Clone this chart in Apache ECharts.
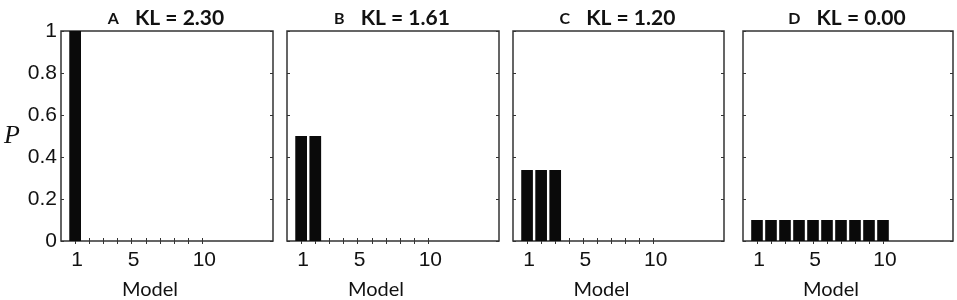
<!DOCTYPE html>
<html>
<head>
<meta charset="utf-8">
<title>KL panels</title>
<script src="https://cdn.jsdelivr.net/npm/echarts@6/dist/echarts.min.js"></script>
<style>
  html, body { margin: 0; padding: 0; background: #fff; }
  #main { width: 957px; height: 300px; }
</style>
</head>
<body>
<div id="main"></div>
<script>
// 数据
var panelLetters = ['A', 'B', 'C', 'D'];
var klValues = ['2.30', '1.61', '1.20', '0.00'];
var modelCats = ['0', '1', '2', '3', '4', '5', '6', '7', '8', '9', '10', '11', '12', '13', '14', '15'];
var xTickLabels = ['1', '5', '10'];
var probA = [1];
var probB = [0.5, 0.5];
var probC = [0.338, 0.338, 0.338];
var probD = [0.1, 0.1, 0.1, 0.1, 0.1, 0.1, 0.1, 0.1, 0.1, 0.1];
var panelProbs = [probA, probB, probC, probD];

// 布局
var grids = [
  { left: 61, top: 31, width: 212, height: 210 },
  { left: 287, top: 31, width: 212, height: 210 },
  { left: 513, top: 31, width: 211, height: 210 },
  { left: 743, top: 31, width: 210, height: 210 }
];

var myChart = echarts.init(document.getElementById('main'));

var option = {
  animation: false,
  backgroundColor: '#fff',
  title: [],
  grid: [],
  xAxis: [],
  yAxis: [],
  series: []
};

function tickShown(index) { return index >= 1 && index <= 10; }

grids.forEach(function (g, i) {
  option.grid.push({
    left: g.left, top: g.top, width: g.width, height: g.height,
    outerBoundsMode: 'none',
    containLabel: false,
    show: true, borderColor: '#333', borderWidth: 1.5, backgroundColor: '#fff'
  });

  option.title.push({
    text: '{a|' + panelLetters[i] + '}{b|KL = ' + klValues[i] + '}',
    left: g.left + g.width / 2 - 6,
    top: 3,
    textAlign: 'center',
    textStyle: {
      rich: {
        a: { fontFamily: 'Lato', fontWeight: 'bold', fontSize: 16, color: '#111', padding: [0, 16, 0, 0] },
        b: { fontFamily: 'Lato', fontWeight: 'bold', fontSize: 21, color: '#111' }
      }
    }
  });

  // 底部x轴
  option.xAxis.push({
    type: 'category',
    gridIndex: i,
    data: modelCats,
    boundaryGap: false,
    position: 'bottom',
    axisLine: { show: false },
    axisTick: { show: true, inside: true, length: 3, interval: tickShown,
      lineStyle: { color: '#333' } },
    axisLabel: {
      margin: 9,
      interval: function (index, value) { return xTickLabels.indexOf(value) >= 0; },
      fontFamily: 'Liberation Sans', fontSize: 21, color: '#111',
      padding: [0, 0, 0, 4]
    },
    splitLine: { show: false },
    name: 'Model',
    nameLocation: 'middle',
    nameGap: 39,
    nameTextStyle: { fontFamily: 'Lato', fontSize: 20, color: '#111', padding: [0, 34, 0, 0] }
  });
  // 顶部x轴（只有刻度）
  option.xAxis.push({
    type: 'category',
    gridIndex: i,
    data: modelCats,
    boundaryGap: false,
    position: 'top',
    axisLine: { show: false },
    axisTick: { show: true, inside: true, length: 3, interval: tickShown,
      lineStyle: { color: '#333' } },
    axisLabel: { show: false },
    splitLine: { show: false }
  });

  option.yAxis.push({
    type: 'value',
    gridIndex: i,
    min: 0, max: 1, interval: 0.2,
    position: 'left',
    axisLine: { show: false },
    axisTick: { show: true, inside: true, length: 3, lineStyle: { color: '#333' } },
    axisLabel: {
      show: i === 0, margin: 4,
      fontFamily: 'Liberation Sans', fontSize: 21, color: '#111',
      padding: [0, 0, 4, 0]
    },
    splitLine: { show: false },
    name: i === 0 ? 'P' : '',
    nameLocation: 'middle',
    nameRotate: 0,
    nameGap: 41,
    nameTextStyle: { fontFamily: 'Liberation Serif', fontStyle: 'italic', fontSize: 26, color: '#111',
      padding: [8, 0, 0, 0] }
  });
  option.yAxis.push({
    type: 'value',
    gridIndex: i,
    min: 0, max: 1, interval: 0.2,
    position: 'right',
    axisLine: { show: false },
    axisTick: { show: true, inside: true, length: 3, lineStyle: { color: '#333' } },
    axisLabel: { show: false },
    splitLine: { show: false }
  });

  var vals = panelProbs[i];
  var data = modelCats.map(function (c, k) {
    return (k >= 1 && k <= vals.length) ? vals[k - 1] : null;
  });

  option.series.push({
    type: 'bar',
    xAxisIndex: i * 2,
    yAxisIndex: i * 2,
    data: data,
    barWidth: '83%',
    itemStyle: { color: '#0a0a0a' },
    silent: true
  });
});

myChart.setOption(option);
</script>
</body>
</html>
